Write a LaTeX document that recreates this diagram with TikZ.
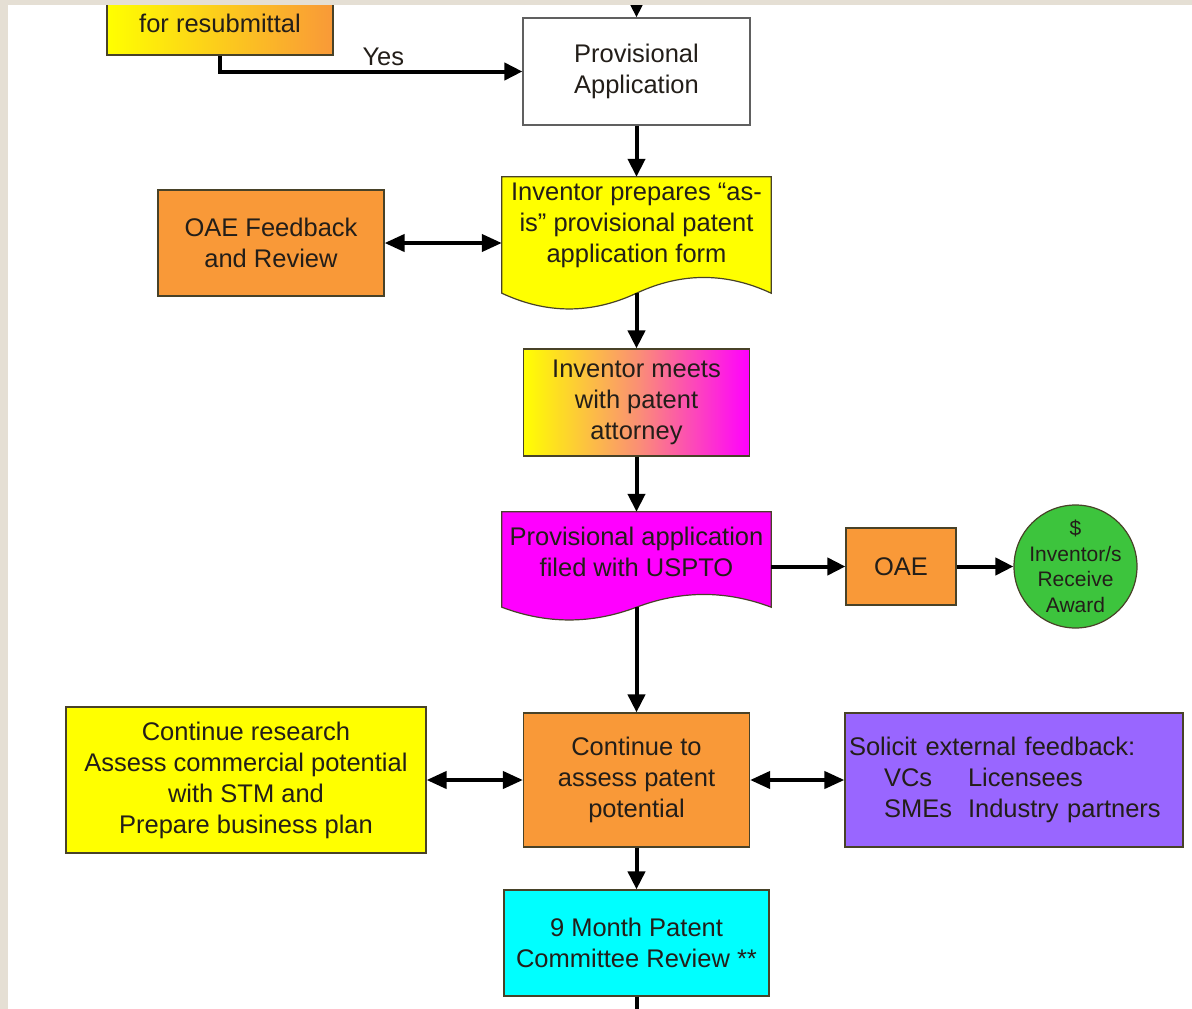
\documentclass[tikz,border=0pt]{standalone}
\usepackage{fontspec}
\setmainfont{Liberation Sans}
\usetikzlibrary{arrows.meta,backgrounds}

\definecolor{frameBeige}{RGB}{229,223,212}
\definecolor{boxYellow}{RGB}{255,255,0}
\definecolor{boxOrange}{RGB}{249,153,56}
\definecolor{boxSalmon}{RGB}{250,145,115}
\definecolor{boxMagenta}{RGB}{255,0,255}
\definecolor{boxPurple}{RGB}{153,102,255}
\definecolor{boxCyan}{RGB}{0,255,255}
\definecolor{boxGreen}{RGB}{61,196,61}
\definecolor{edgeDark}{RGB}{72,66,40}
\definecolor{textDark}{RGB}{35,30,25}

\begin{document}
\begin{tikzpicture}
[x=1pt,y=-1pt,%
  boxDecorate/.style={shape=rectangle,draw=edgeDark,line width=1.2pt,inner sep=2pt,align=center,text=textDark,font=\fontsize{25.5}{31}\selectfont},%
  docDecorate/.style={shape=rectangle,inner sep=2pt,align=center,text=textDark,font=\fontsize{25.5}{31}\selectfont},%
  docShapeDecorate/.style={draw=edgeDark,line width=1.2pt},%
  lineDecorate/.style={line width=4pt,-{Triangle[length=18pt,width=17pt]}},%
  dblLineDecorate/.style={line width=4pt,{Triangle[length=20pt,width=17pt]}-{Triangle[length=20pt,width=17pt]}}]
\useasboundingbox (0,0) rectangle (1192,1009);

%% nodes or boxes
\node (resub) [boxDecorate,left color=boxYellow,right color=boxOrange,minimum width=226pt,minimum height=64pt] at (220,23) {for resubmittal};
\node (prov) [boxDecorate,fill=white,draw=gray!75!black,minimum width=227pt,minimum height=107pt] at (636.5,71.5) {Provisional\\Application};
\node (prep) [docDecorate,minimum width=269pt,minimum height=116pt,text depth=25pt] at (636.5,235) {Inventor prepares “as-\\is” provisional patent\\application form};
\node (fbk) [boxDecorate,fill=boxOrange,minimum width=226pt,minimum height=106pt] at (271,243) {OAE Feedback\\and Review};
\node (meet) [boxDecorate,left color=boxYellow,right color=boxMagenta,middle color=boxSalmon,minimum width=226pt,minimum height=107pt] at (636.5,402.5) {Inventor meets\\with patent\\attorney};
\node (filed) [docDecorate,minimum width=269pt,minimum height=95pt,text depth=16pt] at (636.5,559.5) {Provisional application\\filed with USPTO};
\node (oae) [boxDecorate,fill=boxOrange,minimum width=110pt,minimum height=77pt] at (901,566.5) {OAE};
\node (award) [shape=circle,draw=edgeDark,line width=1.2pt,fill=boxGreen,minimum size=123pt,inner sep=-5pt,align=center,text=textDark,font=\fontsize{21}{25.5}\selectfont] at (1075.5,566.5) {\$\\Inventor/s\\Receive\\Award};
\node (assess) [boxDecorate,fill=boxOrange,minimum width=226pt,minimum height=134pt] at (636.5,780) {Continue to\\assess patent\\potential};
\node (research) [boxDecorate,fill=boxYellow,minimum width=360pt,minimum height=146pt] at (246,780) {Continue research\\Assess commercial potential\\with STM and\\Prepare business plan};
\node (solicit) [boxDecorate,fill=boxPurple,minimum height=134pt,text width=330pt,align=left,inner xsep=4pt] at (1014,780)
  {\begin{tabular}{@{}l@{\hspace{35pt}}l@{\hspace{16pt}}l@{}}
   \multicolumn{3}{@{}l@{}}{Solicit external feedback:}\\
   & VCs & Licensees\\
   & SMEs & Industry partners
   \end{tabular}};
\node (nine) [boxDecorate,fill=boxCyan,minimum width=265pt,minimum height=106pt] at (636.5,943) {9 Month Patent\\Committee Review **};
\coordinate (topIn) at (636.5,-3);
\coordinate (bottomOut) at (636.5,1012);

%% page and document shapes
\begin{scope}[on background layer]
  \fill[white] (8,5) rectangle (1192,1009);
  \path[docShapeDecorate,fill=boxYellow] (prep.north west) -- (prep.north east) -- (prep.south east)
    .. controls +(-45,-21) and +(45,-21) .. (prep.south)
    .. controls +(-45,21) and +(45,21) .. (prep.south west) -- cycle;
  \path[docShapeDecorate,fill=boxMagenta] (filed.north west) -- (filed.north east) -- (filed.south east)
    .. controls +(-45,-17) and +(45,-17) .. (filed.south)
    .. controls +(-45,17) and +(45,17) .. (filed.south west) -- cycle;
\end{scope}

%% edges or arrows
\foreach \startnode/\endnode in {
  topIn/prov.north, prov.south/prep.north, prep.south/meet.north,
  meet.south/filed.north, oae.east/award.west, filed.south/assess.north,
  assess.south/nine.north}
{
  \draw[lineDecorate] (\startnode) -- (\endnode);
}
\draw[lineDecorate] (resub.south) |- node (yesLabel) [pos=0.77,above=0pt,text=textDark,font=\fontsize{25.5}{31}\selectfont] {Yes} (prov.west);
\draw[lineDecorate] (filed.east |- oae.west) -- (oae.west);
\draw[dblLineDecorate] (fbk.east) -- (fbk.east -| prep.west);
\draw[dblLineDecorate] (research.east) -- (assess.west);
\draw[dblLineDecorate] (assess.east) -- (solicit.west);
\draw[line width=4pt] (nine.south) -- (bottomOut);

%% frame
\fill[frameBeige] (0,0) rectangle (1192,5);
\fill[frameBeige] (0,0) rectangle (8,1009);
\end{tikzpicture}
\end{document}
